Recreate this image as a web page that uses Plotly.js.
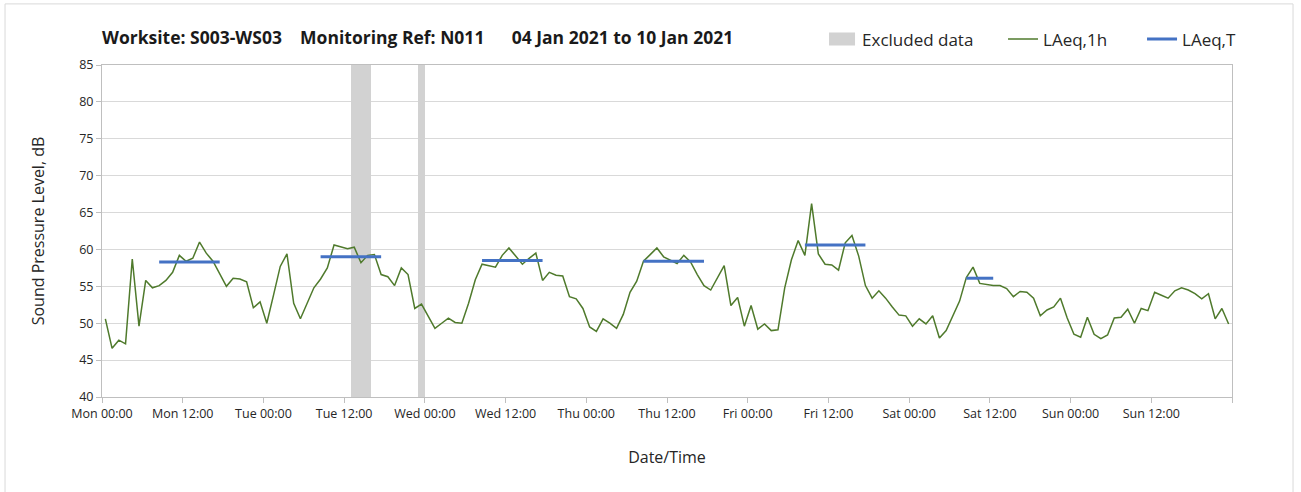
<!DOCTYPE html>
<html>
<head>
<meta charset="utf-8">
<script src="https://cdn.plot.ly/plotly-3.0.1.min.js"></script>
<style>html,body{margin:0;padding:0;background:#fff;}#chart{width:1301px;height:492px;}</style>
</head>
<body>
<div id="chart"></div>
<script>
// ---- data ----
var firstHour = '2021-01-04 00:30'; // first hourly value, one value per hour
var laeq1h = [
  50.6,46.6,47.7,47.2,58.7,49.6,55.8,54.8,55.1,55.8,56.9,59.2,58.4,58.8,61.0,59.5,58.4,56.8,55.0,56.1,56.0,55.6,52.1,52.9,
  50.0,53.8,57.7,59.4,52.7,50.6,52.7,54.8,56.0,57.5,60.6,60.4,60.1,60.3,58.2,59.2,59.3,56.6,56.3,55.1,57.5,56.6,52.0,52.6,
  50.9,49.3,50.0,50.7,50.1,50.0,52.7,55.9,58.0,57.8,57.6,59.2,60.2,59.1,58.0,58.8,59.5,55.8,56.9,56.5,56.4,53.6,53.3,52.0,
  49.5,48.9,50.6,50.0,49.3,51.2,54.2,55.7,58.4,59.3,60.2,59.0,58.5,58.1,59.2,58.3,56.6,55.1,54.5,56.1,57.8,52.4,53.5,49.6,
  52.4,49.2,49.9,49.0,49.1,54.8,58.6,61.2,59.2,66.2,59.4,58.0,57.9,57.2,60.9,61.9,59.1,55.1,53.4,54.4,53.4,52.2,51.1,51.0,
  49.6,50.6,49.9,51.0,48.0,49.0,50.9,53.0,56.2,57.6,55.4,55.2,55.1,55.1,54.7,53.6,54.3,54.2,53.4,51.0,51.8,52.2,53.4,50.7,
  48.5,48.1,50.8,48.5,47.9,48.4,50.7,50.8,51.9,50.0,52.0,51.7,54.2,53.8,53.4,54.4,54.8,54.5,54.0,53.3,54.0,50.6,52.0,49.9
];
var periodStart = ['2021-01-04 08:30','2021-01-05 08:30','2021-01-06 08:30','2021-01-07 08:30','2021-01-08 08:30','2021-01-09 08:30'];
var periodEnd   = ['2021-01-04 17:30','2021-01-05 17:30','2021-01-06 17:30','2021-01-07 17:30','2021-01-08 17:30','2021-01-09 12:30'];
var laeqT       = [58.3, 59.0, 58.5, 58.4, 60.6, 56.1];
var excludedStart = ['2021-01-05 13:00','2021-01-05 23:00'];
var excludedEnd   = ['2021-01-05 16:00','2021-01-06 00:00'];
var tickVals = ['2021-01-04 00:00','2021-01-04 12:00','2021-01-05 00:00','2021-01-05 12:00','2021-01-06 00:00','2021-01-06 12:00',
  '2021-01-07 00:00','2021-01-07 12:00','2021-01-08 00:00','2021-01-08 12:00','2021-01-09 00:00','2021-01-09 12:00',
  '2021-01-10 00:00','2021-01-10 12:00','2021-01-11 00:00'];
var tickText = ['Mon 00:00','Mon 12:00','Tue 00:00','Tue 12:00','Wed 00:00','Wed 12:00','Thu 00:00','Thu 12:00',
  'Fri 00:00','Fri 12:00','Sat 00:00','Sat 12:00','Sun 00:00','Sun 12:00',''];
var xRange = ['2021-01-04 00:00','2021-01-11 00:00'];
var yRange = [40, 85];
var chartTitle = 'Worksite: S003-WS03\u00a0\u00a0\u00a0\u00a0Monitoring Ref: N011\u00a0\u00a0\u00a0\u00a0\u00a0\u00a004 Jan 2021 to 10 Jan 2021';

// ---- helpers ----
function toMs(s){ return Date.parse(s.replace(' ','T') + ':00Z'); }
function fmt(ms){ var d = new Date(ms).toISOString(); return d.slice(0,10) + ' ' + d.slice(11,16); }
var H = 3600000;
var t0 = toMs(firstHour);
var hourX = laeq1h.map(function(_, i){ return fmt(t0 + i * H); });

var tX = [], tY = [];
for (var i = 0; i < laeqT.length; i++) {
  tX.push(periodStart[i], periodEnd[i], null);
  tY.push(laeqT[i], laeqT[i], null);
}
var exX = [], exW = [], exH = [];
for (var j = 0; j < excludedStart.length; j++) {
  var a = toMs(excludedStart[j]), b = toMs(excludedEnd[j]);
  exX.push(fmt((a + b) / 2)); exW.push(b - a); exH.push(yRange[1] - yRange[0]);
}

var FONT = '"Open Sans", Lato, sans-serif';
var traces = [
  {type:'bar', name:'Excluded data', x:exX, y:exH, base:yRange[0], width:exW,
   marker:{color:'#d2d2d2', line:{width:0}}, hoverinfo:'skip', legendwidth:136},
  {type:'scatter', mode:'lines', name:'LAeq,1h', x:hourX, y:laeq1h,
   line:{color:'#4f7a2c', width:1.5}, legendwidth:94},
  {type:'scatter', mode:'lines', name:'LAeq,T', x:tX, y:tY,
   line:{color:'#4472c4', width:3}, connectgaps:false}
];

var layout = {
  width:1301, height:492,
  margin:{l:102, r:69, t:65, b:95},
  paper_bgcolor:'#ffffff', plot_bgcolor:'#ffffff',
  font:{family:FONT, color:'#262626', size:12},
  showlegend:true,
  title:{text:'<b>' + chartTitle + '</b>', x:0, xref:'paper', xanchor:'left',
         y:1 - 38/492, yref:'container', yanchor:'middle',
         font:{family:FONT, size:17.5, color:'#1a1a1a'}},
  legend:{orientation:'h', x:0.6372, xanchor:'left', y:1.077, yanchor:'middle',
          font:{family:FONT, size:17, color:'#262626'}, bgcolor:'rgba(0,0,0,0)',
          traceorder:'normal'},
  bargap:0,
  xaxis:{type:'date', range:xRange, tickmode:'array', tickvals:tickVals, ticktext:tickText,
         showgrid:false, zeroline:false, showline:true, linecolor:'#bfbfbf', linewidth:1, mirror:true,
         ticks:'outside', ticklen:5, tickcolor:'#bfbfbf', tickfont:{size:12.5, color:'#262626'},
         title:{text:'Date/Time', font:{size:16, color:'#262626'}, standoff:30}},
  xaxis2:{type:'date', range:xRange, overlaying:'x', anchor:'y', dtick:86400000, tick0:'2021-01-04',
          showgrid:true, gridcolor:'#d9d9d9', gridwidth:1, showticklabels:false, ticks:'', showline:false, zeroline:false},
  yaxis:{range:yRange, dtick:5, showgrid:true, gridcolor:'#d9d9d9', gridwidth:1, zeroline:false,
         showline:true, linecolor:'#bfbfbf', mirror:true, ticks:'outside', ticklen:5, tickcolor:'#bfbfbf',
         tickfont:{size:12.5, color:'#262626'},
         title:{text:'Sound Pressure Level, dB', font:{size:16, color:'#262626'}, standoff:30}},
  shapes:[{type:'rect', xref:'paper', yref:'paper', x0:-0.0858, x1:1.054, y0:-0.295, y1:1.184,
           line:{color:'#d9d9d9', width:1}, fillcolor:'rgba(0,0,0,0)', layer:'below'}]
};

Plotly.newPlot('chart', traces, layout, {displayModeBar:false, staticPlot:true}).then(function(gd){
  // widen the bar legend swatch into a rectangle like the original
  var pts = gd.querySelectorAll('.legend .traces');
  if (pts.length) {
    var p = pts[0].querySelector('.legendpoints path');
    if (p) p.setAttribute('d', 'M-13,6.5H13V-6.5H-13Z');
  }
});
</script>
</body>
</html>
